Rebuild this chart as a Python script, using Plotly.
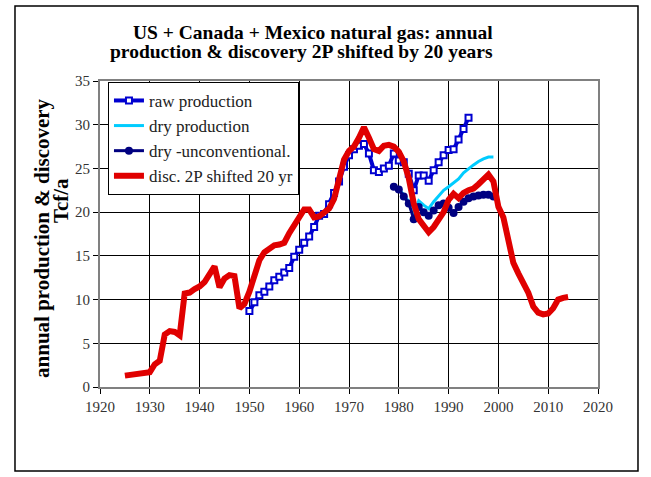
import plotly.graph_objects as go

# disc. 2P shifted by 20 years (Tcf/a)
disc_years = list(range(1925, 2015))
disc_2p = [
    1.3, 1.35, 1.4, 1.45, 1.5, 1.7, 2.6, 3.0, 6.0, 6.4,
    6.3, 5.9, 10.7, 10.8, 11.2, 11.5, 12.0, 12.8, 13.8, 11.4,
    12.4, 12.8, 12.7, 9.0, 9.5, 10.9, 12.8, 14.5, 15.4, 15.8,
    16.2, 16.3, 16.5, 17.6, 18.6, 19.6, 20.3, 20.3, 19.4, 19.5,
    19.9, 20.4, 21.5, 23.5, 26.0, 27.0, 27.5, 28.5, 29.7, 28.5,
    27.2, 27.0, 27.6, 27.7, 27.5, 26.9, 25.8, 23.9, 21.0, 19.2,
    18.3, 17.7, 18.3, 19.3, 20.0, 21.4, 22.1, 21.6, 22.2, 22.5,
    22.7, 23.2, 23.8, 24.3, 23.5, 20.6, 19.4, 17.0, 14.2, 13.0,
    12.0, 10.8, 9.2, 8.5, 8.3, 8.4, 9.0, 10.0, 10.2, 10.3,
]

# raw production
raw_years = list(range(1950, 1995))
raw_prod = [
    8.7, 9.7, 10.5, 10.9, 11.5, 12.2, 12.6, 13.1, 13.6, 14.9,
    15.7, 16.5, 17.2, 18.3, 19.6, 19.8, 20.9, 22.2, 23.5, 25.2,
    26.5, 27.2, 27.6, 27.8, 26.7, 24.8, 24.6, 25.0, 25.3, 26.7,
    25.9, 25.7, 24.4, 22.5, 24.2, 24.2, 23.6, 24.8, 25.7, 26.5,
    27.1, 27.2, 28.3, 29.5, 30.8,
]

# dry production and dry minus unconventional
dry_years = list(range(1979, 2000))
dry_prod = [
    22.9, 22.6, 22.0, 21.2, 19.8, 21.3, 20.8, 20.4, 21.2, 21.8,
    22.5, 22.9, 23.3, 23.8, 24.5, 25.0, 25.4, 25.8, 26.1, 26.3,
    26.3,
]
dry_unconv = [
    22.9, 22.6, 21.8, 21.0, 19.2, 20.6, 20.0, 19.6, 20.2, 20.8,
    21.0, 20.5, 19.9, 20.6, 21.2, 21.6, 21.8, 21.9, 22.0, 22.0,
    21.8,
]

SERIF = "Liberation Serif"

fig = go.Figure()
fig.add_trace(go.Scatter(
    x=raw_years, y=raw_prod, name="raw production", legendgroup="a",
    mode="lines+markers",
    line=dict(color="#0000D0", width=4),
    marker=dict(symbol="square", size=6, color="white",
                line=dict(color="#0000D0", width=2)),
))
fig.add_trace(go.Scatter(
    x=dry_years, y=dry_prod, name="dry production", legendgroup="b",
    mode="lines", line=dict(color="#00CCFF", width=3),
))
fig.add_trace(go.Scatter(
    x=dry_years, y=dry_unconv, name="dry -unconventional.", legendgroup="c",
    mode="lines+markers", line=dict(color="#000080", width=3),
    marker=dict(symbol="circle", size=8, color="#000080"),
))
fig.add_trace(go.Scatter(
    x=disc_years, y=disc_2p, name="disc. 2P shifted 20 yr", legendgroup="d",
    mode="lines", line=dict(color="#E00000", width=6),
))

axis_common = dict(
    showgrid=True, gridcolor="black", gridwidth=1,
    showline=True, linecolor="#808080", linewidth=2, mirror=True,
    ticks="outside", ticklen=5, tickcolor="black",
    tickfont=dict(family=SERIF, size=15, color="#333333"),
    zeroline=False,
)
fig.update_xaxes(range=[1920, 2020], dtick=10, **axis_common)
fig.update_yaxes(range=[0, 35], dtick=5, **axis_common)

fig.update_layout(
    width=651, height=477,
    margin=dict(l=100, r=53, t=81, b=90),
    paper_bgcolor="white", plot_bgcolor="white",
    font=dict(family=SERIF, color="black"),
    showlegend=True,
    legend=dict(
        x=0.016, y=0.997, xanchor="left", yanchor="top",
        bgcolor="white", bordercolor="black", borderwidth=1,
        font=dict(family=SERIF, size=17, color="#222222"),
        tracegroupgap=0,
    ),
    annotations=[
        dict(text="<b>US + Canada + Mexico natural gas: annual</b>",
             xref="paper", yref="paper", x=0.4277, y=1.157,
             xanchor="center", yanchor="middle",
             showarrow=False, font=dict(family=SERIF, size=19.5)),
        dict(text="<b>production & discovery 2P shifted by 20 years</b>",
             xref="paper", yref="paper", x=0.4056, y=1.095,
             xanchor="center", yanchor="middle",
             showarrow=False, font=dict(family=SERIF, size=19.5)),
        dict(text="<b>annual production & discovery</b>",
             xref="paper", yref="paper", x=-0.1165, y=0.487,
             xanchor="center", yanchor="middle",
             textangle=-90, showarrow=False,
             font=dict(family=SERIF, size=21)),
        dict(text="<b>Tcf/a</b>",
             xref="paper", yref="paper", x=-0.078, y=0.608,
             xanchor="center", yanchor="middle",
             textangle=-90, showarrow=False,
             font=dict(family=SERIF, size=21)),
    ],
    shapes=[
        dict(type="rect", xref="paper", yref="paper",
             x0=-0.1707, x1=1.0803, y0=-0.2745, y1=1.2451,
             line=dict(color="black", width=1.5)),
    ],
)

fig.write_html("out.html", config={"displayModeBar": False},
               post_script="document.body.style.margin='0';")
